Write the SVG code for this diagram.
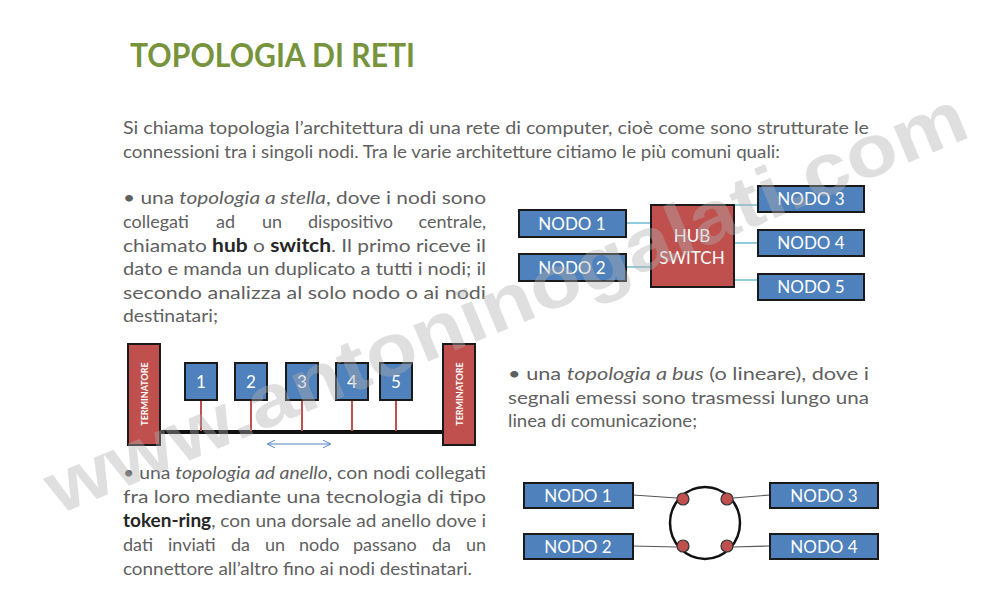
<svg xmlns="http://www.w3.org/2000/svg" width="1000" height="600" viewBox="0 0 1000 600">
<defs>
<style>
.t{font-family:Lato,"Open Sans","Liberation Sans",sans-serif;font-size:18px;fill:#606060}
.i{font-style:italic}
.b{font-weight:bold;fill:#262626}
.node{fill:#4F81BD;stroke:#1a1a1a;stroke-width:2}
.red{fill:#C0504D;stroke:#1a1a1a;stroke-width:2}
.lbl{font-family:Lato,"Open Sans","Liberation Sans",sans-serif;font-size:17px;fill:#ffffff;text-anchor:middle}
.term{font-family:Lato,"Liberation Sans",sans-serif;font-size:9px;font-weight:bold;fill:#ffffff;text-anchor:middle}
.cs{stroke:#4BACC6;stroke-width:1.2;fill:none}
.cr{stroke:#555555;stroke-width:1.2;fill:none}
.stick{stroke:#C0504D;stroke-width:2}
</style>
<marker id="ah" viewBox="0 0 10 10" refX="9" refY="5" markerWidth="8" markerHeight="8" orient="auto-start-reverse" markerUnits="userSpaceOnUse">
<path d="M0,0 L10,5 L0,10" fill="none" stroke="#4F81BD" stroke-width="1.2"/>
</marker>
</defs>
<rect width="1000" height="600" fill="#ffffff"/>

<g id="title">
<text x="130" y="67" font-family="Lato,'Open Sans','Liberation Sans',sans-serif" font-size="32" font-weight="bold" fill="#77933C" textLength="285" lengthAdjust="spacingAndGlyphs">TOPOLOGIA DI RETI</text>
</g>

<g id="intro" class="t">
<text x="123" y="134" textLength="746" lengthAdjust="spacingAndGlyphs">Si chiama topologia l’architettura di una rete di computer, cioè come sono strutturate le</text>
<text x="123" y="158" textLength="657" lengthAdjust="spacingAndGlyphs">connessioni tra i singoli nodi. Tra le varie architetture citiamo le più comuni quali:</text>
</g>

<g id="text-stella" class="t">
<text x="123" y="204" textLength="363" lengthAdjust="spacingAndGlyphs">• una <tspan class="i">topologia a stella</tspan>, dove i nodi sono</text>
<text y="228"><tspan x="123">collegati</tspan><tspan x="216">ad</tspan><tspan x="262">un</tspan><tspan x="308">dispositivo</tspan></text>
<text x="486" y="228" text-anchor="end">centrale,</text>
<text x="123" y="252" textLength="363" lengthAdjust="spacingAndGlyphs">chiamato <tspan class="b">hub</tspan> o <tspan class="b">switch</tspan>. Il primo riceve il</text>
<text x="123" y="275" textLength="363" lengthAdjust="spacingAndGlyphs">dato e manda un duplicato a tutti i nodi; il</text>
<text x="123" y="299" textLength="363" lengthAdjust="spacingAndGlyphs">secondo analizza al solo nodo o ai nodi</text>
<text x="123" y="322" textLength="95" lengthAdjust="spacingAndGlyphs">destinatari;</text>
</g>

<g id="text-bus" class="t">
<text x="508" y="380" textLength="361" lengthAdjust="spacingAndGlyphs">• una <tspan class="i">topologia a bus</tspan> (o lineare), dove i</text>
<text x="508" y="404" textLength="361" lengthAdjust="spacingAndGlyphs">segnali emessi sono trasmessi lungo una</text>
<text x="508" y="427" textLength="189" lengthAdjust="spacingAndGlyphs">linea di comunicazione;</text>
</g>

<g id="text-anello" class="t">
<text x="123" y="479" textLength="363" lengthAdjust="spacingAndGlyphs">• una <tspan class="i">topologia ad anello</tspan>, con nodi collegati</text>
<text x="123" y="503" textLength="363" lengthAdjust="spacingAndGlyphs">fra loro mediante una tecnologia di tipo</text>
<text x="123" y="527" textLength="363" lengthAdjust="spacingAndGlyphs"><tspan class="b">token-ring</tspan>, con una dorsale ad anello dove i</text>
<text y="551"><tspan x="123">dati</tspan><tspan x="168">inviati</tspan><tspan x="231">da</tspan><tspan x="265">un</tspan><tspan x="299">nodo</tspan><tspan x="353">passano</tspan><tspan x="432">da</tspan></text>
<text x="486" y="551" text-anchor="end">un</text>
<text x="123" y="575" textLength="349" lengthAdjust="spacingAndGlyphs">connettore all’altro fino ai nodi destinatari.</text>
</g>

<g id="connectors">
<line class="cs" x1="626" y1="223" x2="651" y2="223"/>
<line class="cs" x1="626" y1="267" x2="651" y2="267"/>
<line class="cs" x1="734" y1="205" x2="758" y2="205"/>
<line class="cs" x1="734" y1="243" x2="758" y2="243"/>
<line class="cs" x1="734" y1="280" x2="758" y2="280"/>
<line x1="160" y1="432" x2="443" y2="432" stroke="#111111" stroke-width="4"/>
<line class="stick" x1="201" y1="400" x2="201" y2="431"/>
<line class="stick" x1="251" y1="400" x2="251" y2="431"/>
<line class="stick" x1="302" y1="400" x2="302" y2="431"/>
<line class="stick" x1="352" y1="400" x2="352" y2="431"/>
<line class="stick" x1="396" y1="400" x2="396" y2="431"/>
<line x1="268" y1="444" x2="330" y2="444" stroke="#4F81BD" stroke-width="1" marker-start="url(#ah)" marker-end="url(#ah)"/>
<line class="cr" x1="633" y1="495" x2="677" y2="498"/>
<line class="cr" x1="633" y1="546" x2="677" y2="547"/>
<line class="cr" x1="733" y1="498" x2="770" y2="495"/>
<line class="cr" x1="733" y1="547" x2="770" y2="546"/>
</g>

<g id="star-nodo1"><rect class="node" x="519" y="210" width="107" height="27"/><text class="lbl" x="572" y="230">NODO 1</text></g>
<g id="star-nodo2"><rect class="node" x="519" y="254" width="107" height="27"/><text class="lbl" x="572" y="274">NODO 2</text></g>
<g id="star-hub"><rect class="red" x="651" y="205" width="83" height="82"/><text class="lbl" x="692" y="242">HUB</text><text class="lbl" x="692" y="264">SWITCH</text></g>
<g id="star-nodo3"><rect class="node" x="758" y="186" width="106" height="26"/><text class="lbl" x="811" y="205">NODO 3</text></g>
<g id="star-nodo4"><rect class="node" x="758" y="230" width="106" height="26"/><text class="lbl" x="811" y="249">NODO 4</text></g>
<g id="star-nodo5"><rect class="node" x="758" y="274" width="106" height="26"/><text class="lbl" x="811" y="293">NODO 5</text></g>

<g id="bus-term-left"><rect class="red" x="128" y="344" width="32" height="101"/><text class="term" transform="translate(148,394) rotate(-90)">TERMINATORE</text></g>
<g id="bus-term-right"><rect class="red" x="443" y="344" width="32" height="101"/><text class="term" transform="translate(463,394) rotate(-90)">TERMINATORE</text></g>
<g id="bus-1"><rect class="node" x="185" y="363" width="32" height="37"/><text class="lbl" x="201" y="388" font-size="18">1</text></g>
<g id="bus-2"><rect class="node" x="235" y="363" width="32" height="37"/><text class="lbl" x="251" y="388" font-size="18">2</text></g>
<g id="bus-3"><rect class="node" x="286" y="363" width="32" height="37"/><text class="lbl" x="302" y="388" font-size="18">3</text></g>
<g id="bus-4"><rect class="node" x="336" y="363" width="32" height="37"/><text class="lbl" x="352" y="388" font-size="18">4</text></g>
<g id="bus-5"><rect class="node" x="380" y="363" width="32" height="37"/><text class="lbl" x="396" y="388" font-size="18">5</text></g>

<g id="ring">
<ellipse cx="705" cy="523" rx="35" ry="36" fill="none" stroke="#111111" stroke-width="2.5"/>
<circle cx="683" cy="499" r="6" fill="#C0504D" stroke="#333" stroke-width="1.2"/>
<circle cx="727" cy="499" r="6" fill="#C0504D" stroke="#333" stroke-width="1.2"/>
<circle cx="683" cy="546" r="6" fill="#C0504D" stroke="#333" stroke-width="1.2"/>
<circle cx="727" cy="546" r="6" fill="#C0504D" stroke="#333" stroke-width="1.2"/>
</g>
<g id="ring-nodo1"><rect class="node" x="524" y="483" width="109" height="25"/><text class="lbl" x="578" y="502">NODO 1</text></g>
<g id="ring-nodo2"><rect class="node" x="524" y="534" width="109" height="25"/><text class="lbl" x="578" y="553">NODO 2</text></g>
<g id="ring-nodo3"><rect class="node" x="770" y="483" width="108" height="25"/><text class="lbl" x="824" y="502">NODO 3</text></g>
<g id="ring-nodo4"><rect class="node" x="770" y="534" width="108" height="25"/><text class="lbl" x="824" y="553">NODO 4</text></g>

<g id="watermark">
<text x="0" y="0" transform="translate(58,515) rotate(-22.5)" font-family="'Liberation Sans',Arial,sans-serif" font-size="74" font-weight="bold" fill="#b0b0b0" fill-opacity="0.4" textLength="990" lengthAdjust="spacingAndGlyphs">www.antoninogalati.com</text>
</g>
</svg>
